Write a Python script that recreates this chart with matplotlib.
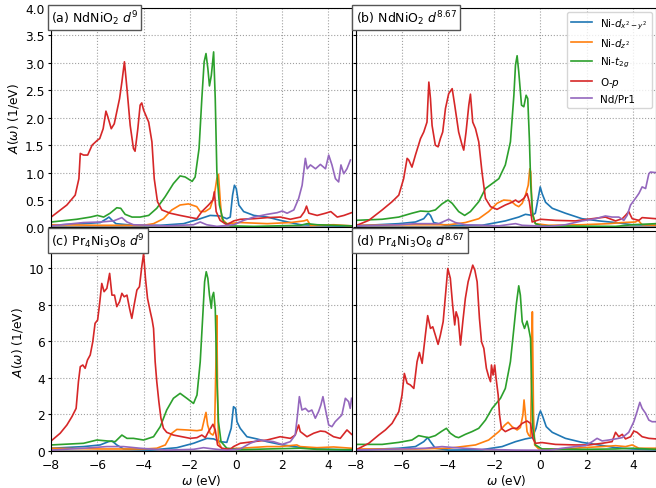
import numpy as np
import matplotlib
matplotlib.use("Agg")
import matplotlib.pyplot as plt

# Projected spectral functions A(w), read per orbital channel as (omega, A) pairs.

# (a) NdNiO2 d^9
A_DX2 = [(-8, 0.04), (-6.6, 0.07), (-5.87, 0.09), (-5.6, 0.16), (-5.5, 0.19), (-5.36, 0.13), (-5.2, 0.07),
         (-4.44, 0.04), (-3.28, 0.04), (-2.27, 0.07), (-1.55, 0.16), (-1.12, 0.22), (-0.69, 0.21), (-0.4, 0.16),
         (-0.25, 0.19), (-0.15, 0.59), (-0.07, 0.77), (0.01, 0.71), (0.12, 0.41), (0.33, 0.29), (0.77, 0.22),
         (1.35, 0.19), (1.92, 0.13), (2.35, 0.09), (2.79, 0.05), (5, 0.02)]
A_DZ2 = [(-8, 0.05), (-5.87, 0.04), (-4.0, 0.04), (-3.57, 0.07), (-3.14, 0.16), (-2.78, 0.32), (-2.42, 0.41),
         (-2.06, 0.43), (-1.7, 0.38), (-1.55, 0.29), (-1.34, 0.29), (-1.12, 0.35), (-0.94, 0.59), (-0.83, 0.89),
         (-0.76, 0.97), (-0.69, 0.53), (-0.62, 0.16), (-0.4, 0.07), (0.19, 0.09), (1.35, 0.07), (2.35, 0.09),
         (2.93, 0.12), (3.08, 0.14), (3.22, 0.04), (4.23, 0.05), (5, 0.03)]
A_T2G = [(-8, 0.10), (-6.89, 0.15), (-6.3, 0.19), (-6.0, 0.22), (-5.73, 0.19), (-5.45, 0.26), (-5.16, 0.36),
         (-4.99, 0.35), (-4.8, 0.24), (-4.5, 0.19), (-4.15, 0.19), (-3.78, 0.22), (-3.43, 0.35), (-3.07, 0.56),
         (-2.71, 0.80), (-2.42, 0.94), (-2.2, 0.92), (-1.9, 0.84), (-1.77, 0.92), (-1.6, 1.44), (-1.48, 2.35),
         (-1.38, 3.02), (-1.3, 3.17), (-1.22, 2.9), (-1.15, 2.58), (-1.07, 2.77), (-0.97, 3.2), (-0.9, 2.35),
         (-0.83, 1.01), (-0.72, 0.41), (-0.54, 0.10), (-0.25, 0.03), (0.77, 0.02), (2.79, 0.04), (3.08, 0.07),
         (3.51, 0.05), (5, 0.03)]
A_OP = [(-8, 0.19), (-7.32, 0.41), (-6.96, 0.59), (-6.8, 0.89), (-6.74, 1.35), (-6.6, 1.32), (-6.42, 1.32),
        (-6.23, 1.5), (-6.0, 1.59), (-5.9, 1.62), (-5.75, 1.8), (-5.63, 2.12), (-5.55, 2.02), (-5.4, 1.8),
        (-5.27, 1.89), (-5.04, 2.35), (-4.94, 2.65), (-4.83, 3.02), (-4.72, 2.53), (-4.58, 1.86), (-4.44, 1.44),
        (-4.37, 1.39), (-4.25, 1.8), (-4.15, 2.23), (-4.08, 2.27), (-4.0, 2.14), (-3.91, 2.05), (-3.78, 1.92),
        (-3.64, 1.56), (-3.54, 0.89), (-3.4, 0.47), (-3.21, 0.32), (-2.85, 0.26), (-2.42, 0.22), (-2.06, 0.19),
        (-1.7, 0.16), (-1.48, 0.29), (-1.19, 0.41), (-1.0, 0.5), (-0.94, 0.65), (-0.86, 0.29), (-0.69, 0.13),
        (-0.4, 0.05), (-0.1, 0.12), (0.19, 0.15), (0.77, 0.16), (1.35, 0.18), (1.92, 0.19), (2.35, 0.15),
        (2.79, 0.19), (2.96, 0.29), (3.05, 0.39), (3.15, 0.26), (3.51, 0.22), (3.87, 0.26), (4.1, 0.29),
        (4.38, 0.19), (4.67, 0.22), (5, 0.27)]
A_ND = [(-8, 0.03), (-6.6, 0.09), (-5.87, 0.10), (-5.3, 0.12), (-4.94, 0.18), (-4.72, 0.10), (-4.44, 0.05),
        (-3.0, 0.03), (-1.84, 0.05), (-1.55, 0.10), (-1.27, 0.05), (-0.83, 0.02), (-0.1, 0.05), (0.33, 0.13),
        (0.77, 0.19), (1.35, 0.24), (1.78, 0.27), (2.0, 0.30), (2.21, 0.26), (2.5, 0.32), (2.71, 0.53),
        (2.86, 0.77), (3.0, 1.26), (3.08, 1.07), (3.22, 1.14), (3.44, 1.07), (3.65, 1.15), (3.87, 1.07),
        (4.01, 1.32), (4.15, 1.14), (4.3, 0.89), (4.44, 0.83), (4.54, 1.14), (4.66, 0.98), (4.8, 1.07),
        (4.95, 1.23)]

# (b) NdNiO2 d^8.67
B_DX2 = [(-8, 0.03), (-6.13, 0.07), (-5.41, 0.10), (-5.05, 0.16), (-4.86, 0.26), (-4.76, 0.22), (-4.62, 0.09),
         (-4.11, 0.04), (-2.53, 0.04), (-1.52, 0.12), (-0.94, 0.19), (-0.65, 0.24), (-0.36, 0.22), (-0.22, 0.26),
         (-0.1, 0.53), (-0.01, 0.74), (0.07, 0.62), (0.22, 0.46), (0.51, 0.35), (1.08, 0.26), (1.8, 0.16),
         (2.53, 0.12), (3.25, 0.09), (3.97, 0.05), (5, 0.04)]
B_DZ2 = [(-8, 0.04), (-5.41, 0.05), (-3.97, 0.05), (-3.25, 0.09), (-2.67, 0.16), (-2.24, 0.29), (-1.88, 0.44),
         (-1.59, 0.50), (-1.3, 0.49), (-1.08, 0.41), (-0.94, 0.38), (-0.79, 0.44), (-0.65, 0.59), (-0.53, 0.77),
         (-0.46, 1.07), (-0.42, 1.01), (-0.36, 0.29), (-0.22, 0.07), (0.36, 0.04), (1.8, 0.05), (2.96, 0.07),
         (3.54, 0.09), (4.11, 0.10), (4.23, 0.13), (4.4, 0.05), (5, 0.04)]
B_T2G = [(-8, 0.13), (-6.85, 0.15), (-6.13, 0.19), (-5.56, 0.26), (-5.19, 0.30), (-4.83, 0.29), (-4.55, 0.32),
         (-4.26, 0.43), (-4.0, 0.50), (-3.82, 0.44), (-3.54, 0.29), (-3.28, 0.22), (-3.03, 0.29), (-2.67, 0.47),
         (-2.38, 0.71), (-2.09, 0.80), (-1.8, 0.89), (-1.52, 1.14), (-1.3, 1.56), (-1.15, 2.41), (-1.08, 2.96),
         (-1.01, 3.13), (-0.94, 2.84), (-0.82, 2.23), (-0.72, 2.2), (-0.62, 2.41), (-0.55, 2.35), (-0.48, 1.62),
         (-0.42, 0.77), (-0.33, 0.22), (-0.22, 0.07), (0.07, 0.03), (3.25, 0.02), (3.97, 0.05), (5, 0.07)]
B_OP = [(-8, 0.03), (-7.43, 0.13), (-6.85, 0.32), (-6.42, 0.47), (-6.13, 0.59), (-5.92, 0.89), (-5.77, 1.26),
        (-5.7, 1.23), (-5.56, 1.10), (-5.41, 1.32), (-5.19, 1.62), (-5.05, 1.74), (-4.91, 1.92), (-4.83, 2.65),
        (-4.76, 2.35), (-4.69, 1.86), (-4.55, 1.50), (-4.43, 1.47), (-4.33, 1.62), (-4.23, 1.74), (-4.11, 2.17),
        (-3.97, 2.44), (-3.82, 2.53), (-3.71, 2.23), (-3.54, 1.74), (-3.39, 1.50), (-3.32, 1.41), (-3.22, 1.74),
        (-3.1, 2.23), (-3.03, 2.43), (-2.93, 1.92), (-2.81, 1.80), (-2.67, 1.56), (-2.53, 1.01), (-2.38, 0.53),
        (-2.16, 0.38), (-1.88, 0.33), (-1.52, 0.41), (-1.23, 0.46), (-1.08, 0.50), (-0.94, 0.46), (-0.72, 0.53),
        (-0.58, 0.62), (-0.48, 0.47), (-0.36, 0.10), (-0.14, 0.13), (0.0, 0.15), (0.65, 0.13), (1.52, 0.12),
        (2.24, 0.16), (2.81, 0.19), (3.25, 0.12), (3.54, 0.16), (3.68, 0.22), (3.82, 0.29), (3.97, 0.16),
        (4.26, 0.13), (4.4, 0.18), (5, 0.16)]
B_ND = [(-8, 0.03), (-6.13, 0.05), (-5.41, 0.07), (-4.4, 0.07), (-3.97, 0.15), (-3.68, 0.09), (-3.25, 0.05),
        (-1.8, 0.03), (-1.08, 0.07), (-0.79, 0.04), (0.36, 0.02), (1.08, 0.05), (1.8, 0.12), (2.38, 0.16),
        (2.81, 0.21), (3.1, 0.19), (3.39, 0.19), (3.61, 0.13), (3.75, 0.22), (3.9, 0.41), (4.11, 0.53),
        (4.26, 0.62), (4.4, 0.74), (4.55, 0.71), (4.69, 0.98), (4.76, 1.01), (5, 1.0)]

# (c) Pr4Ni3O8 d^9
C_DX2 = [(-8, 0.15), (-6.6, 0.24), (-5.88, 0.33), (-5.52, 0.51), (-5.37, 0.55), (-5.16, 0.33), (-4.87, 0.11),
         (-3.71, 0.05), (-2.56, 0.18), (-1.84, 0.42), (-1.26, 0.69), (-0.97, 0.66), (-0.68, 0.51), (-0.4, 0.47),
         (-0.21, 1.24), (-0.11, 2.42), (-0.02, 2.33), (0.04, 1.6), (0.18, 1.24), (0.47, 0.78), (0.9, 0.66),
         (1.34, 0.51), (1.91, 0.36), (2.49, 0.24), (3.5, 0.11), (5, 0.05)]
C_DZ2 = [(-8, 0.15), (-5.88, 0.11), (-4.0, 0.11), (-3.43, 0.15), (-3.06, 0.33), (-2.78, 0.97), (-2.56, 1.18),
         (-2.13, 1.15), (-1.69, 1.11), (-1.48, 1.15), (-1.38, 1.69), (-1.3, 2.11), (-1.23, 1.42), (-1.12, 0.97),
         (-1.0, 0.87), (-0.93, 1.06), (-0.87, 4.88), (-0.83, 7.4), (-0.8, 3.06), (-0.76, 0.51), (-0.61, 0.11),
         (0.18, 0.15), (1.34, 0.24), (1.91, 0.24), (2.63, 0.33), (2.78, 0.24), (3.5, 0.18), (4.22, 0.22),
         (5, 0.15)]
C_T2G = [(-8, 0.33), (-6.6, 0.42), (-6.02, 0.6), (-5.59, 0.55), (-5.23, 0.51), (-4.94, 0.87), (-4.72, 0.69),
         (-4.44, 0.69), (-4.0, 0.6), (-3.57, 0.78), (-3.28, 1.33), (-3.0, 2.24), (-2.71, 2.88), (-2.42, 3.15),
         (-2.13, 2.88), (-1.84, 2.6), (-1.69, 3.06), (-1.55, 4.88), (-1.43, 7.61), (-1.36, 9.25), (-1.29, 9.8),
         (-1.22, 9.44), (-1.15, 8.52), (-1.07, 7.8), (-1.03, 8.43), (-0.97, 8.67), (-0.9, 7.8), (-0.83, 3.97),
         (-0.76, 1.6), (-0.65, 0.51), (-0.4, 0.15), (0.18, 0.07), (1.34, 0.11), (2.78, 0.15), (3.5, 0.09),
         (5, 0.07)]
C_OP = [(-8, 0.55), (-7.61, 0.97), (-7.32, 1.42), (-7.1, 1.88), (-6.92, 2.33), (-6.82, 3.79), (-6.74, 4.61),
        (-6.63, 4.7), (-6.53, 4.52), (-6.43, 4.97), (-6.31, 5.25), (-6.2, 5.97), (-6.1, 6.98), (-5.99, 7.16),
        (-5.91, 7.98), (-5.81, 9.16), (-5.71, 8.71), (-5.59, 8.89), (-5.47, 9.71), (-5.37, 8.52), (-5.26, 8.52),
        (-5.16, 7.89), (-5.04, 8.16), (-4.94, 8.62), (-4.84, 8.43), (-4.72, 8.52), (-4.61, 7.8), (-4.51, 7.25),
        (-4.41, 7.98), (-4.29, 8.8), (-4.18, 8.98), (-4.08, 10.07), (-4.0, 10.8), (-3.92, 9.44), (-3.83, 8.34),
        (-3.71, 7.61), (-3.63, 7.16), (-3.57, 6.7), (-3.5, 4.88), (-3.43, 3.79), (-3.34, 2.7), (-3.25, 1.79),
        (-3.14, 1.24), (-3.0, 1.02), (-2.71, 0.87), (-2.34, 0.78), (-1.98, 0.69), (-1.69, 0.73), (-1.48, 0.87),
        (-1.33, 0.73), (-1.19, 1.06), (-1.0, 1.46), (-0.9, 1.15), (-0.8, 0.33), (-0.61, 0.15), (-0.25, 0.09),
        (-0.11, 0.24), (0.18, 0.42), (0.76, 0.51), (1.34, 0.6), (1.91, 0.78), (2.35, 0.69), (2.56, 0.87),
        (2.71, 1.42), (2.78, 1.06), (3.07, 0.78), (3.36, 0.97), (3.65, 1.09), (3.86, 1.06), (4.22, 0.78),
        (4.51, 0.69), (4.8, 1.15), (5, 0.91)]
C_PR = [(-8, 0.05), (-6.6, 0.15), (-5.59, 0.24), (-4.87, 0.24), (-4.15, 0.15), (-3.0, 0.05), (-1.84, 0.09),
        (-1.41, 0.18), (-0.97, 0.11), (-0.4, 0.04), (0.18, 0.11), (0.61, 0.42), (0.98, 0.6), (1.34, 0.55),
        (1.62, 0.51), (1.99, 0.36), (2.35, 0.51), (2.56, 0.87), (2.66, 1.97), (2.74, 2.97), (2.85, 2.24),
        (3.0, 2.33), (3.14, 2.15), (3.28, 2.24), (3.43, 1.79), (3.57, 2.15), (3.67, 2.51), (3.76, 2.97),
        (3.86, 2.33), (4.01, 1.42), (4.15, 1.33), (4.29, 1.6), (4.44, 1.79), (4.58, 1.97), (4.73, 2.88),
        (4.87, 2.7), (4.94, 2.33), (5, 2.88)]

# (d) Pr4Ni3O8 d^8.67
D_DX2 = [(-8, 0.05), (-6.13, 0.15), (-5.41, 0.24), (-5.05, 0.51), (-4.88, 0.73), (-4.76, 0.51), (-4.55, 0.15),
         (-3.97, 0.05), (-2.53, 0.07), (-1.66, 0.24), (-1.08, 0.51), (-0.65, 0.66), (-0.36, 0.73), (-0.19, 1.24),
         (-0.07, 1.97), (0.0, 2.19), (0.1, 1.88), (0.25, 1.33), (0.51, 1.02), (1.08, 0.69), (1.8, 0.47),
         (2.53, 0.33), (3.25, 0.18), (3.97, 0.11), (5, 0.07)]
D_DZ2 = [(-8, 0.11), (-5.41, 0.11), (-3.97, 0.15), (-2.81, 0.33), (-2.24, 0.6), (-1.8, 1.06), (-1.54, 1.42),
         (-1.4, 1.57), (-1.23, 1.33), (-1.01, 1.15), (-0.87, 1.28), (-0.76, 1.97), (-0.71, 2.79), (-0.65, 1.97),
         (-0.58, 1.06), (-0.51, 0.87), (-0.43, 0.78), (-0.38, 4.88), (-0.35, 7.61), (-0.3, 1.97), (-0.25, 0.33),
         (-0.07, 0.11), (1.08, 0.11), (1.8, 0.18), (2.67, 0.24), (3.25, 0.29), (3.68, 0.24), (3.97, 0.33),
         (4.26, 0.15), (5, 0.15)]
D_T2G = [(-8, 0.36), (-6.85, 0.36), (-6.13, 0.47), (-5.56, 0.6), (-5.27, 0.84), (-5.05, 0.78), (-4.83, 0.73),
         (-4.55, 0.84), (-4.26, 1.09), (-4.07, 1.24), (-3.9, 0.97), (-3.68, 0.78), (-3.54, 0.73), (-3.25, 0.91),
         (-2.96, 1.06), (-2.67, 1.24), (-2.38, 1.69), (-2.09, 2.33), (-1.73, 2.88), (-1.52, 3.42), (-1.3, 4.88),
         (-1.15, 6.7), (-1.04, 8.07), (-0.94, 9.03), (-0.87, 8.52), (-0.79, 7.07), (-0.69, 6.7), (-0.58, 7.1),
         (-0.51, 6.7), (-0.43, 6.16), (-0.39, 3.97), (-0.33, 1.24), (-0.22, 0.33), (0.07, 0.11), (1.8, 0.09),
         (3.25, 0.11), (3.97, 0.15), (5, 0.09)]
D_OP = [(-8, 0.05), (-7.43, 0.42), (-7.0, 0.87), (-6.71, 1.15), (-6.42, 1.51), (-6.13, 2.15), (-5.99, 3.06),
        (-5.89, 4.24), (-5.77, 3.7), (-5.63, 3.61), (-5.48, 3.42), (-5.34, 4.88), (-5.24, 5.39), (-5.12, 4.79),
        (-4.98, 6.34), (-4.88, 7.4), (-4.76, 6.7), (-4.66, 6.79), (-4.55, 6.34), (-4.43, 5.83), (-4.33, 6.34),
        (-4.21, 7.07), (-4.11, 8.52), (-4.01, 9.98), (-3.9, 9.44), (-3.8, 7.98), (-3.71, 6.89), (-3.65, 7.61),
        (-3.56, 7.25), (-3.46, 5.79), (-3.36, 7.07), (-3.25, 8.34), (-3.13, 9.25), (-3.03, 9.71), (-2.93, 10.16),
        (-2.84, 9.89), (-2.74, 9.25), (-2.64, 7.25), (-2.55, 5.97), (-2.45, 5.61), (-2.34, 4.52), (-2.24, 4.06),
        (-2.16, 3.79), (-2.12, 4.7), (-2.05, 4.15), (-1.98, 4.7), (-1.92, 3.97), (-1.83, 3.06), (-1.77, 1.97),
        (-1.69, 1.24), (-1.52, 1.06), (-1.23, 1.24), (-1.01, 1.24), (-0.79, 1.51), (-0.58, 1.64), (-0.43, 1.51),
        (-0.33, 0.69), (-0.22, 0.42), (0.07, 0.46), (0.65, 0.36), (1.52, 0.33), (2.09, 0.33), (2.67, 0.42),
        (3.1, 0.51), (3.25, 1.02), (3.39, 0.78), (3.54, 0.91), (3.68, 0.66), (3.9, 0.78), (4.04, 1.09),
        (4.18, 1.02), (4.4, 0.78), (4.69, 0.69), (5, 0.66)]
D_PR = [(-8, 0.05), (-6.13, 0.11), (-4.98, 0.15), (-4.26, 0.24), (-3.68, 0.18), (-2.53, 0.09), (-1.08, 0.05),
        (0.36, 0.04), (0.94, 0.15), (1.52, 0.24), (1.95, 0.29), (2.24, 0.51), (2.45, 0.69), (2.67, 0.55),
        (2.96, 0.6), (3.25, 0.66), (3.54, 0.73), (3.82, 1.02), (4.04, 1.6), (4.18, 2.15), (4.3, 2.66),
        (4.4, 2.33), (4.55, 2.06), (4.69, 1.69), (4.83, 1.6), (5, 1.6)]

# remaining weight that sits on the zero line
BASE = [(-8, 0.01), (5, 0.01)]

LABELS = [r"Ni-$d_{x^2-y^2}$", r"Ni-$d_{z^2}$", r"Ni-$t_{2g}$", r"O-$p$", "Nd/Pr1"]
COLORS = ["tab:blue", "tab:orange", "tab:green", "tab:red", "tab:purple"]
TITLES = [r"(a) NdNiO$_2$ $d^{9}$", r"(b) NdNiO$_2$ $d^{8.67}$",
          r"(c) Pr$_4$Ni$_3$O$_8$ $d^{9}$", r"(d) Pr$_4$Ni$_3$O$_8$ $d^{8.67}$"]
PANELS = [
    [A_DX2, A_DZ2, A_T2G, A_OP, A_ND],
    [B_DX2, B_DZ2, B_T2G, B_OP, B_ND],
    [C_DX2, C_DZ2, C_T2G, C_OP, C_PR],
    [D_DX2, D_DZ2, D_T2G, D_OP, D_PR],
]

plt.rcParams.update({
    "font.size": 8.8,
    "xtick.labelsize": 8.8,
    "ytick.labelsize": 8.8,
    "axes.labelsize": 8.8,
    "xtick.major.size": 2.5,
    "ytick.major.size": 2.5,
    "xtick.major.pad": 2.2,
    "ytick.major.pad": 2.2,
})

fig, axes = plt.subplots(2, 2, figsize=(6.56, 4.89), dpi=100)
fig.subplots_adjust(left=0.078, right=1.0, bottom=0.0757, top=0.9816,
                    wspace=0.0133, hspace=0.0182)

for i, ax in enumerate(axes.flat):
    b = np.array(BASE).T
    ax.plot(b[0], b[1], color="tab:gray", lw=1.2)
    for data, lab, col in zip(PANELS[i], LABELS, COLORS):
        w, a = np.array(data).T
        ax.plot(w, a, color=col, lw=1.2, label=lab)

    ax.set_xlim(-8, 5)
    ax.set_xticks([-8, -6, -4, -2, 0, 2, 4])
    ax.grid(True, linestyle=":", color="#a0a0a0", linewidth=0.8)
    ax.text(0.0, 1.0, TITLES[i], transform=ax.transAxes, ha="left", va="top",
            fontsize=9,
            bbox=dict(boxstyle="square,pad=0.25", facecolor="white", edgecolor="#555555", linewidth=1.0))

    if i < 2:
        ax.set_ylim(0, 4.0)
        ax.set_yticks(np.arange(0, 4.01, 0.5))
        ax.tick_params(axis="x", labelbottom=False)
    else:
        ax.set_ylim(0, 12)
        ax.set_yticks([0, 2, 4, 6, 8, 10])
        ax.set_xlabel(r"$\omega$ (eV)", labelpad=1)

    if i % 2 == 0:
        ax.set_ylabel(r"$A(\omega)$ (1/eV)", labelpad=3)
    else:
        ax.tick_params(axis="y", labelleft=False)

axes[0, 1].legend(loc="upper right", fontsize=7.5, borderaxespad=0.4)

fig.savefig("out.png", dpi=100)
